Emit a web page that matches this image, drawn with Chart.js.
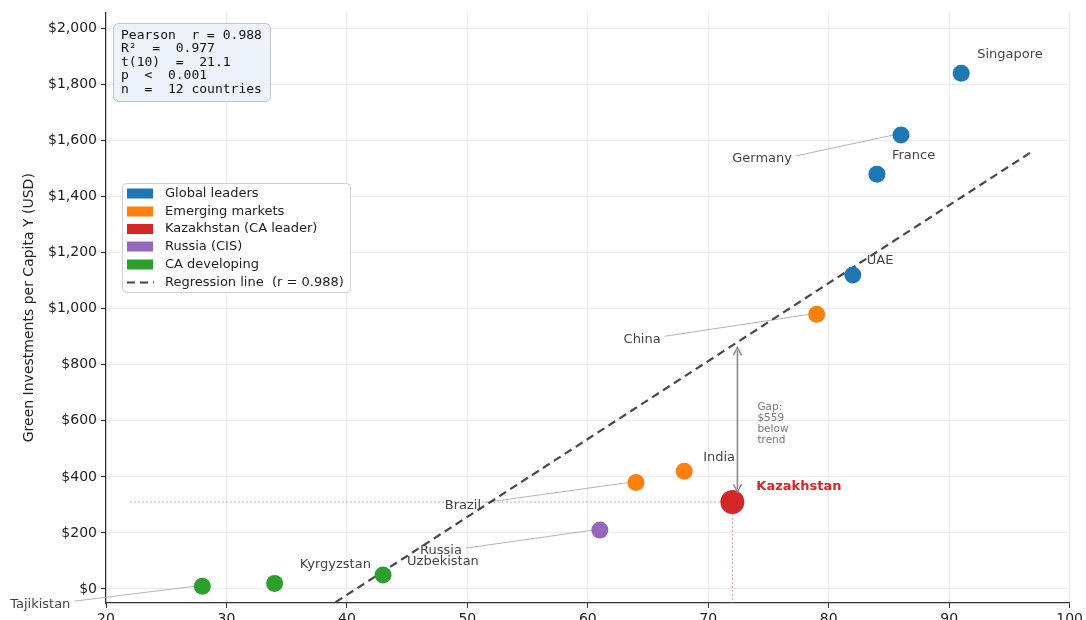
<!DOCTYPE html>
<html>
<head>
<meta charset="utf-8">
<script src="https://cdn.jsdelivr.net/npm/chart.js@4.4.1/dist/chart.umd.min.js"></script>
<style>
  html, body { margin: 0; padding: 0; background: #fff; overflow: hidden; }
  #wrap { width: 1086px; height: 620px; overflow: hidden; position: relative; }
  #wrap canvas { display: block; }
</style>
</head>
<body>
<div id="wrap"><canvas id="scatter" width="1086" height="640"></canvas></div>
<script>
// country data
const countries = ['Singapore', 'Germany', 'France', 'UAE', 'China', 'India', 'Brazil', 'Kazakhstan', 'Russia', 'Uzbekistan', 'Kyrgyzstan', 'Tajikistan'];
const xValues = [91, 86, 84, 82, 79, 68, 64, 72, 61, 43, 34, 28];
const yValues = [1840, 1620, 1480, 1120, 980, 420, 380, 310, 210, 50, 20, 10];
const groupOf = ['leader', 'leader', 'leader', 'leader', 'emerging', 'emerging', 'emerging', 'kz', 'cis', 'ca', 'ca', 'ca'];

const groupKeys = ['leader', 'emerging', 'kz', 'cis', 'ca'];
const groupNames = ['Global leaders', 'Emerging markets', 'Kazakhstan (CA leader)', 'Russia (CIS)', 'CA developing'];
const groupColors = ['#1f77b4', '#ff7f0e', '#d62728', '#9467bd', '#2ca02c'];

// regression line endpoints
const regX = [30, 97];
const regY = [-299, 1564];
const trendAtKz = 869;

const xTicks = [20, 30, 40, 50, 60, 70, 80, 90, 100];
const yTicks = [0, 200, 400, 600, 800, 1000, 1200, 1400, 1600, 1800, 2000];

const statLines = ['Pearson  r = 0.988', 'R\u00b2  =  0.977', 't(10)  =  21.1', 'p  <  0.001', 'n  =  12 countries'];
const gapLines = ['Gap:', '$559', 'below', 'trend'];

// label placement: pixel offset from the point, text alignment, leader line
const labelPos = {
  Singapore: { dx: 16, dy: -19, align: 'left' },
  Germany: { dx: -109, dy: 24, align: 'right', leader: true },
  France: { dx: 15, dy: -19, align: 'left' },
  UAE: { dx: 14, dy: -14, align: 'left' },
  China: { dx: -156, dy: 25, align: 'right', leader: true },
  India: { dx: 19, dy: -14, align: 'left' },
  Brazil: { dx: -155, dy: 23, align: 'right', leader: true },
  Kazakhstan: { dx: 24, dy: -15, align: 'left' },
  Russia: { dx: -138, dy: 21, align: 'right', leader: true },
  Uzbekistan: { dx: 24, dy: -13, align: 'left' },
  Kyrgyzstan: { dx: 25, dy: -19, align: 'left' },
  Tajikistan: { dx: -132, dy: 18, align: 'right', leader: true }
};

const FONT = '"DejaVu Sans", Verdana, sans-serif';
const MONO = '"DejaVu Sans Mono", monospace';

const datasets = [{
  type: 'line',
  label: 'Regression line  (r = 0.988)',
  data: regX.map((x, i) => ({ x: x, y: regY[i] })),
  borderColor: 'rgba(40,40,40,0.85)',
  borderWidth: 2.2,
  borderDash: [8, 5],
  pointRadius: 0,
  fill: false,
  order: 2
}];
groupKeys.forEach((g, gi) => {
  const pts = [];
  countries.forEach((c, i) => {
    if (groupOf[i] === g) pts.push({ x: xValues[i], y: yValues[i], name: c });
  });
  datasets.push({
    type: 'scatter',
    label: groupNames[gi],
    data: pts,
    backgroundColor: groupColors[gi],
    borderWidth: 0,
    pointRadius: g === 'kz' ? 12 : 8.5,
    pointHoverRadius: g === 'kz' ? 12 : 8.5,
    order: 1
  });
});

function px(chart, x, y) {
  return [chart.scales.x.getPixelForValue(x), chart.scales.y.getPixelForValue(y)];
}

const annotations = {
  id: 'annotations',
  beforeDatasetsDraw(chart) {
    const ctx = chart.ctx;
    const area = chart.chartArea;
    ctx.save();
    ctx.beginPath();
    ctx.rect(area.left, area.top, area.right - area.left, area.bottom - area.top);
    ctx.clip();
    // dotted guides at Kazakhstan
    const ki = countries.indexOf('Kazakhstan');
    const [kx, ky] = px(chart, xValues[ki], yValues[ki]);
    const [gx] = px(chart, 22, 0);
    ctx.strokeStyle = 'rgba(220,80,100,0.7)';
    ctx.lineWidth = 1;
    ctx.setLineDash([1.5, 2.5]);
    ctx.beginPath();
    ctx.moveTo(gx, ky); ctx.lineTo(kx, ky);
    ctx.moveTo(kx, ky); ctx.lineTo(kx, area.bottom);
    ctx.stroke();
    ctx.setLineDash([]);
    ctx.restore();

    // leader lines
    ctx.save();
    ctx.strokeStyle = '#b5b5b5';
    ctx.lineWidth = 1;
    countries.forEach((c, i) => {
      const p = labelPos[c];
      if (!p.leader) return;
      const [x, y] = px(chart, xValues[i], yValues[i]);
      ctx.beginPath();
      ctx.moveTo(x + p.dx + 4, y + p.dy - 3);
      ctx.lineTo(x - 7, y);
      ctx.stroke();
    });
    ctx.restore();
  },
  afterDatasetsDraw(chart) {
    const ctx = chart.ctx;
    ctx.save();
    ctx.textBaseline = 'middle';
    // country labels
    countries.forEach((c, i) => {
      const p = labelPos[c];
      const [x, y] = px(chart, xValues[i], yValues[i]);
      if (c === 'Kazakhstan') {
        ctx.font = 'bold 13px ' + FONT;
        ctx.fillStyle = '#d62728';
      } else {
        ctx.font = '13px ' + FONT;
        ctx.fillStyle = '#444';
      }
      ctx.textAlign = p.align;
      ctx.fillText(c, x + p.dx, y + p.dy);
    });

    // gap arrow
    const ki = countries.indexOf('Kazakhstan');
    const [ax, y0] = px(chart, xValues[ki] + 0.42, yValues[ki]);
    const [, y1] = px(chart, xValues[ki], trendAtKz);
    const yb = y0 - 10;
    const yt = y1 + 2;
    ctx.strokeStyle = '#8a8a8a';
    ctx.fillStyle = '#8a8a8a';
    ctx.lineWidth = 1.6;
    ctx.beginPath();
    ctx.moveTo(ax, yb - 3); ctx.lineTo(ax, yt + 3);
    ctx.stroke();
    ctx.lineWidth = 1.4;
    ctx.beginPath();
    ctx.moveTo(ax - 4, yt + 8); ctx.lineTo(ax, yt); ctx.lineTo(ax + 4, yt + 8);
    ctx.moveTo(ax - 4, yb - 8); ctx.lineTo(ax, yb); ctx.lineTo(ax + 4, yb - 8);
    ctx.stroke();

    ctx.font = '10.5px ' + FONT;
    ctx.fillStyle = '#777';
    ctx.textAlign = 'left';
    gapLines.forEach((t, i) => ctx.fillText(t, ax + 20, 407 + i * 11));

    // stats box
    ctx.fillStyle = 'rgba(236,241,248,0.95)';
    ctx.strokeStyle = '#c4c4c4';
    ctx.lineWidth = 1;
    ctx.beginPath();
    ctx.roundRect(113.5, 23.5, 157, 78, 5);
    ctx.fill();
    ctx.stroke();
    ctx.font = '13px ' + MONO;
    ctx.fillStyle = '#111';
    statLines.forEach((t, i) => ctx.fillText(t, 121, 35.5 + i * 13.5));

    // legend
    ctx.fillStyle = 'rgba(255,255,255,0.9)';
    ctx.strokeStyle = '#cfcfcf';
    ctx.beginPath();
    ctx.roundRect(122.5, 183.5, 228, 109, 4);
    ctx.fill();
    ctx.stroke();
    ctx.font = '13px ' + FONT;
    const rowY = [193.5, 211.5, 229, 246.5, 264.5, 282.5];
    groupNames.forEach((n, i) => {
      ctx.fillStyle = groupColors[i];
      ctx.fillRect(127, rowY[i] - 5, 26, 10);
      ctx.fillStyle = '#222';
      ctx.fillText(n, 165, rowY[i]);
    });
    ctx.strokeStyle = '#444';
    ctx.lineWidth = 2.2;
    ctx.setLineDash([8, 5]);
    ctx.beginPath();
    ctx.moveTo(127, rowY[5]); ctx.lineTo(154, rowY[5]);
    ctx.stroke();
    ctx.setLineDash([]);
    ctx.fillStyle = '#222';
    ctx.fillText(datasets[0].label, 165, rowY[5]);
    ctx.restore();
  }
};

new Chart(document.getElementById('scatter'), {
  type: 'scatter',
  data: { datasets: datasets },
  options: {
    responsive: false,
    animation: false,
    layout: { padding: { top: 10, right: 15, left: 0, bottom: 0 } },
    plugins: { legend: { display: false }, tooltip: { enabled: false } },
    scales: {
      x: {
        type: 'linear',
        min: 20,
        max: 100,
        afterBuildTicks: (s) => { s.ticks = xTicks.map(v => ({ value: v })); },
        afterFit: (s) => { s.height = 37; },
        grid: { color: '#ebebeb', tickColor: '#333', tickLength: 5, lineWidth: 1 },
        border: { display: true, color: '#333', width: 1.2 },
        ticks: { color: '#222', font: { family: FONT, size: 14 }, padding: 3, maxRotation: 0 }
      },
      y: {
        type: 'linear',
        min: -50,
        max: 2057,
        afterBuildTicks: (s) => { s.ticks = yTicks.map(v => ({ value: v })); },
        afterFit: (s) => { s.width = 106; },
        grid: { color: '#ebebeb', tickColor: '#333', tickLength: 5, lineWidth: 1 },
        border: { display: true, color: '#333', width: 1.2 },
        ticks: {
          color: '#222',
          font: { family: FONT, size: 14 },
          padding: 4,
          callback: (v) => '$' + v.toLocaleString('en-US')
        },
        title: {
          display: true,
          text: 'Green Investments per Capita Y (USD)',
          color: '#222',
          font: { family: FONT, size: 14 },
          padding: { top: 21, bottom: 0 }
        }
      }
    }
  },
  plugins: [annotations]
});
</script>
</body>
</html>
